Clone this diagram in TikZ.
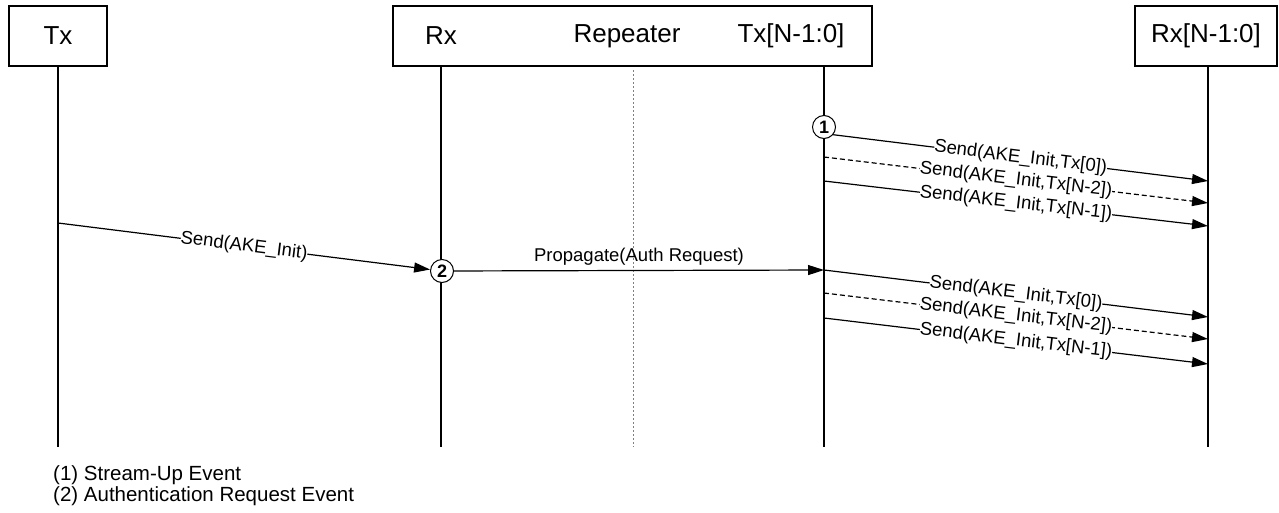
\documentclass[tikz,border=0pt]{standalone}
\usepackage{fontspec}
\setmainfont{Liberation Sans}
\usetikzlibrary{arrows.meta, positioning}
\tikzset{
  actor/.style = {draw, line width=2pt, minimum height=60pt, inner sep=0pt,
    font=\fontsize{26}{30}\selectfont},% boite d'un participant
  actorlbl/.style = {inner sep=0pt, font=\fontsize{26}{30}\selectfont},
  lifeline/.style = {line width=1.3pt},
  evt/.style = {circle, draw, fill=white, line width=1pt, minimum size=23pt,
    inner sep=0pt, font=\fontsize{18}{18}\selectfont\bfseries},% evenement
  msg/.style = {line width=1.2pt, -{Triangle[length=16pt,width=10pt]}},
  msglbl/.style = {sloped, midway, fill=white, inner sep=0pt,
    font=\fontsize{18.5}{20}\selectfont},
  note/.style = {anchor=west, inner sep=0pt, font=\fontsize{20.5}{24}\selectfont}
}

\begin{document}
\begin{tikzpicture}[x=1pt, y=-1pt]
  \useasboundingbox (0,0) rectangle (1279,512);
  % participants
  \node (tx) [actor, minimum width=98pt] at (58,36) {Tx};
  \node (rep) [actor, minimum width=479pt] at (632.5,36) {};
  \node (rxlbl) [actorlbl] at (441,36) {Rx};
  \node (replbl) [actorlbl] at (627,36) {Repeater};
  \node (txnlbl) [actorlbl] at (791,36) {Tx[N-1:0]};
  \node (rxn) [actor, minimum width=142pt] at (1206,36) {Rx[N-1:0]};
  % lifelines
  \coordinate (rxtop) at (441,66);
  \coordinate (txntop) at (824,66);
  \coordinate (txbot) at (58,447);
  \coordinate (rxbot) at (441,447);
  \coordinate (txnbot) at (824,447);
  \coordinate (rxnbot) at (1208,447);
  \draw[lifeline] (tx.south) -- (txbot);
  \draw[lifeline] (rxtop) -- (rxbot);
  \draw[lifeline] (txntop) -- (txnbot);
  \draw[lifeline] (rxn.south -| rxnbot) -- (rxnbot);
  \coordinate (septop) at (633,70);
  \coordinate (sepbot) at (633,447);
  \draw[gray, line width=1pt, dash pattern=on 1.5pt off 2.5pt] (septop) -- (sepbot);
  % events
  \node (e1) [evt] at (824,127) {1};
  \node (e2) [evt] at (442,271) {2};
  % stream-up
  \coordinate (a2) at (824,157);
  \coordinate (a3) at (824,181);
  \coordinate (b1) at (1208,181);
  \coordinate (b2) at (1208,203);
  \coordinate (b3) at (1208,226);
  \draw[msg] (e1.-40) -- (b1) node[msglbl] {Send(AKE\_Init,Tx[0])};
  \draw[msg, dash pattern=on 5pt off 3pt] (a2) -- (b2) node[msglbl] {Send(AKE\_Init,Tx[N-2])};
  \draw[msg] (a3) -- (b3) node[msglbl] {Send(AKE\_Init,Tx[N-1])};
  % authentication request
  \coordinate (tx1) at (58,223);
  \coordinate (p1) at (824,270);
  \draw[msg] (tx1) -- (e2) node[msglbl] {Send(AKE\_Init)};
  \draw[msg] (e2) -- (p1) node[midway, above, inner sep=5pt,
    font=\fontsize{18.5}{20}\selectfont] {Propagate(Auth Request)};
  \coordinate (c2) at (824,293);
  \coordinate (c3) at (824,318);
  \coordinate (d1) at (1208,317);
  \coordinate (d2) at (1208,339);
  \coordinate (d3) at (1208,364);
  \draw[msg] (p1) -- (d1) node[msglbl] {Send(AKE\_Init,Tx[0])};
  \draw[msg, dash pattern=on 5pt off 3pt] (c2) -- (d2) node[msglbl] {Send(AKE\_Init,Tx[N-2])};
  \draw[msg] (c3) -- (d3) node[msglbl] {Send(AKE\_Init,Tx[N-1])};
  % legend
  \node (n1) [note] at (53,475) {(1) Stream-Up Event};
  \node (n2) [note] at (53,496) {(2) Authentication Request Event};
\end{tikzpicture}
\end{document}
